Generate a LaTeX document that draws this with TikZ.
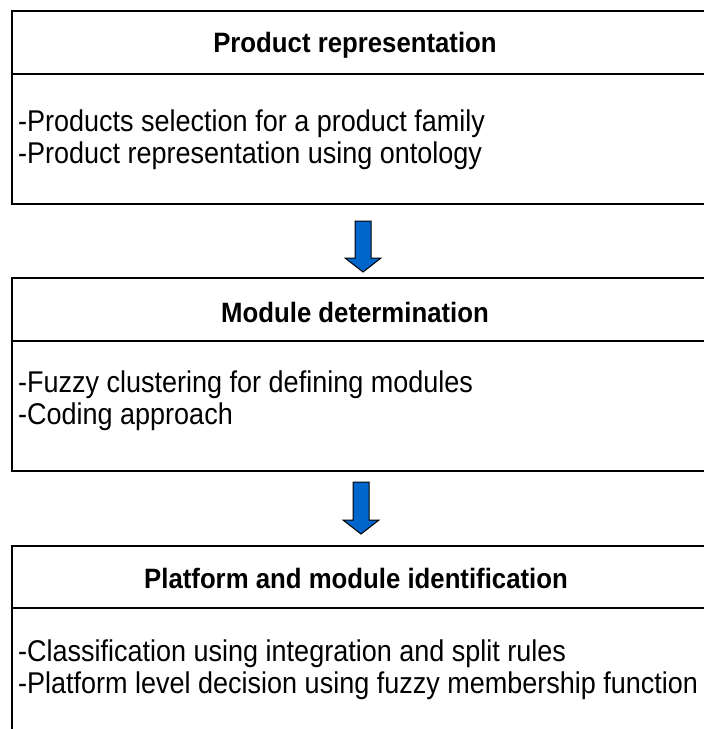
\documentclass[tikz,border=0pt]{standalone}
\usepackage{fontspec}
\setmainfont{Liberation Sans}
\newfontfamily\bodyfont[FakeStretch=0.9]{Liberation Sans}
\newfontfamily\titlefont[FakeStretch=0.92]{Liberation Sans Bold}
\begin{document}
\begin{tikzpicture}[x=1pt,y=-1pt]
\tikzset{
  box/.style={draw=black, line width=2pt, fill=white, anchor=north west, inner sep=0pt, minimum width=720pt},
  divider/.style={draw=black, line width=2pt},
  ttl/.style={font=\titlefont\fontsize{28}{32}\selectfont, anchor=base, inner sep=0pt},
  body/.style={font=\bodyfont\fontsize{30}{32}\selectfont, anchor=base west, inner sep=0pt},
  blockarrow/.style={draw=black, line width=1pt, fill={rgb,255:red,0;green,102;blue,204}, line join=miter}
}
\useasboundingbox (0,0) rectangle (704,729);
\clip (0,0) rectangle (704,729);
\fill[white] (0,0) rectangle (704,729);

% box 1
\node[box, minimum height=193pt] (b1) at (11,10) {};
\draw[divider] (11,74) -- (720,74);
\node[ttl] (t1) at (355,52) {Product representation};
\node[body] (l11) at (18,131) {-Products selection for a product family};
\node[body] (l12) at (18,163) {-Product representation using ontology};

% box 2
\node[box, minimum height=193pt] (b2) at (11,277) {};
\draw[divider] (11,341) -- (720,341);
\node[ttl] (t2) at (355,322) {Module determination};
\node[body] (l21) at (18,392) {-Fuzzy clustering for defining modules};
\node[body] (l22) at (18,424) {-Coding approach};

% box 3
\node[box, minimum height=240pt] (b3) at (11,545) {};
\draw[divider] (11,608) -- (720,608);
\node[ttl] (t3) at (356,588) {Platform and module identification};
\node[body] (l31) at (18,661) {-Classification using integration and split rules};
\node[body] (l32) at (18,693) {-Platform level decision using fuzzy membership function};

% arrows
\draw[blockarrow] (355,221) -- (371,221) -- (371,258) -- (381,258) -- (363,272) -- (345,258) -- (355,258) -- cycle;
\draw[blockarrow] (353,482) -- (369,482) -- (369,520) -- (379,520) -- (361,534) -- (343,520) -- (353,520) -- cycle;
\end{tikzpicture}
\end{document}
